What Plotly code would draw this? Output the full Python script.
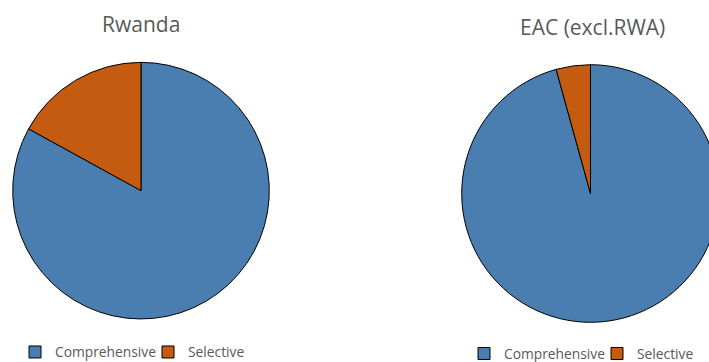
import plotly.graph_objects as go

# Share of agreements by type
categories = ["Comprehensive", "Selective"]
rwanda_share = [83.0, 17.0]
eac_share = [95.7, 4.3]
titles = ["Rwanda", "EAC (excl.RWA)"]

colors = ["#4A7EB0", "#C55A11"]
font_family = "Open Sans, Lato, sans-serif"
grey = "#595959"

# The canvas is a little larger than the view so the right pie runs off the edge
W, H = 740, 372
MB = 39              # bottom margin reserved for the legends
PH = H - MB          # plot-area height


def px_x(x):
    return x / W


def px_y(y):
    # pixel offset from the top -> paper fraction
    return max(0.0, (PH - y) / PH)


fig = go.Figure()

fig.add_trace(go.Pie(
    labels=categories, values=rwanda_share,
    sort=False, direction="clockwise", rotation=0,
    textinfo="none",
    marker=dict(colors=colors, line=dict(color="#000000", width=1)),
    domain=dict(x=[px_x(12.7), px_x(269.3)], y=[px_y(319.3), px_y(62.0)]),
    legend="legend",
))

# Pie legend entries are keyed by label, so the second chart's keys get a
# trailing space to keep its own set of entries in the second legend.
fig.add_trace(go.Pie(
    labels=[c + " " for c in categories], values=eac_share,
    sort=False, direction="clockwise", rotation=0,
    textinfo="none",
    marker=dict(colors=colors, line=dict(color="#000000", width=1)),
    domain=dict(x=[px_x(461.7), px_x(719.3)], y=[px_y(322.3), px_y(64.7)]),
    legend="legend2",
))

legend_style = dict(
    orientation="h",
    xanchor="left",
    yanchor="bottom",
    yref="container",
    entrywidth=88,
    entrywidthmode="pixels",
    font=dict(family=font_family, size=13.8, color=grey),
    bgcolor="rgba(0,0,0,0)",
    itemclick=False,
    itemdoubleclick=False,
)

fig.update_layout(
    width=W,
    height=H,
    margin=dict(l=0, r=0, t=0, b=MB),
    paper_bgcolor="white",
    plot_bgcolor="white",
    showlegend=True,
    legend=dict(x=px_x(15), y=4.5 / H, **legend_style),
    legend2=dict(x=px_x(464), y=3 / H, **legend_style),
    annotations=[
        dict(text=titles[0], x=px_x(141), y=px_y(24), xref="paper", yref="paper",
             xanchor="center", yanchor="middle", showarrow=False,
             font=dict(family=font_family, size=21, color=grey)),
        dict(text=titles[1], x=px_x(592), y=px_y(27.5), xref="paper", yref="paper",
             xanchor="center", yanchor="middle", showarrow=False,
             font=dict(family=font_family, size=21, color=grey)),
    ],
)

fig.write_html(
    "out.html",
    post_script="document.documentElement.style.overflow='hidden';document.body.style.overflow='hidden';",
)
